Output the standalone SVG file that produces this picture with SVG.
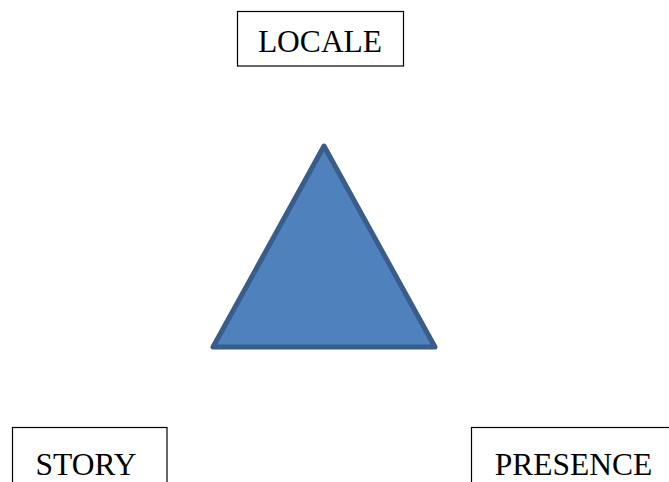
<svg xmlns="http://www.w3.org/2000/svg" width="669" height="482" viewBox="0 0 669 482">
<style>
.box{fill:#fff;stroke:#000;stroke-width:1.2}
.lbl{font-family:"Liberation Serif","Times New Roman",serif;font-size:31.5px;fill:#000}
</style>
<rect width="669" height="482" fill="#fff"/>
<g id="connectors"></g>
<g id="locale">
<rect class="box" x="237.5" y="11.5" width="166" height="54.5"/>
<text class="lbl" x="320" y="52" text-anchor="middle">LOCALE</text>
</g>
<g id="triangle">
<polygon points="324,146 213,347 435,347" fill="#4F81BD" stroke="#385D8A" stroke-width="5" stroke-linejoin="round"/>
</g>
<g id="story">
<rect class="box" x="12.5" y="427.5" width="154.5" height="60"/>
<text class="lbl" x="86" y="475" text-anchor="middle">STORY</text>
</g>
<g id="presence">
<rect class="box" x="471.5" y="427.5" width="210" height="60"/>
<text class="lbl" x="573.5" y="475" text-anchor="middle">PRESENCE</text>
</g>
</svg>
